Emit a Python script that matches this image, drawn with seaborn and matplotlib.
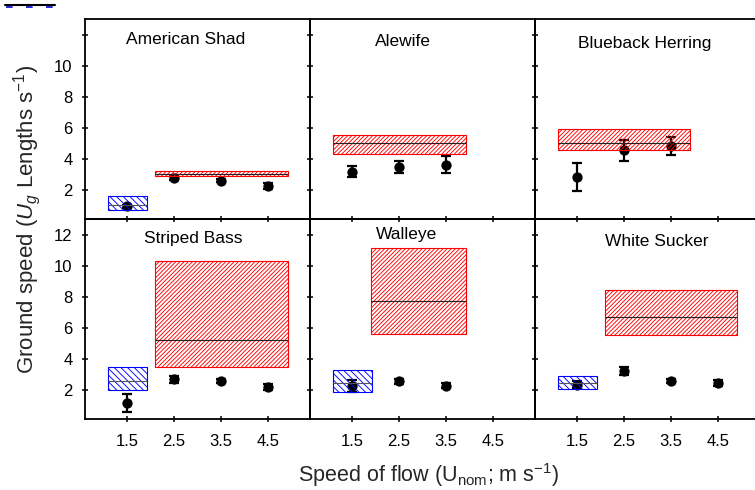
import matplotlib
matplotlib.use("Agg")
import matplotlib.pyplot as plt
from matplotlib.lines import Line2D
import numpy as np
import pandas as pd
import seaborn as sns

# ---------------- data ----------------
species = ["American Shad", "Alewife", "Blueback Herring",
           "Striped Bass", "Walleye", "White Sucker"]
flow_ticks = [1.5, 2.5, 3.5, 4.5]

shad_flow = [1.5, 2.5, 3.5, 4.5]
shad_mean = [0.92, 2.75, 2.58, 2.21]
shad_err = [0.10, 0.16, 0.12, 0.18]

alewife_flow = [1.5, 2.5, 3.5]
alewife_mean = [3.14, 3.46, 3.59]
alewife_err = [0.35, 0.40, 0.55]

blueback_flow = [1.5, 2.5, 3.5]
blueback_mean = [2.79, 4.52, 4.80]
blueback_err = [0.90, 0.66, 0.57]

bass_flow = [1.5, 2.5, 3.5, 4.5]
bass_mean = [1.14, 2.65, 2.54, 2.15]
bass_err = [0.59, 0.20, 0.15, 0.20]

walleye_flow = [1.5, 2.5, 3.5]
walleye_mean = [2.22, 2.52, 2.24]
walleye_err = [0.38, 0.15, 0.15]

sucker_flow = [1.5, 2.5, 3.5, 4.5]
sucker_mean = [2.32, 3.21, 2.54, 2.41]
sucker_err = [0.20, 0.25, 0.13, 0.20]

# red (hatched) ranges, one per species
red_x0 = [2.1, 1.1, 1.1, 2.1, 1.9, 2.1]
red_x1 = [4.92, 3.92, 3.9, 4.92, 3.92, 4.9]
red_lo = [2.85, 4.32, 4.54, 3.45, 5.57, 5.55]
red_med = [3.0, 5.01, 5.01, 5.2, 7.72, 6.67]
red_hi = [3.2, 5.5, 5.89, 10.32, 11.12, 8.39]

# blue (hatched) ranges
blue_species = ["American Shad", "Striped Bass", "Walleye", "White Sucker"]
blue_x0 = [1.1, 1.1, 1.1, 1.1]
blue_x1 = [1.92, 1.92, 1.92, 1.92]
blue_lo = [0.66, 2.0, 1.87, 2.03]
blue_med = [1.0, 2.58, 2.41, 2.41]
blue_hi = [1.57, 3.48, 3.23, 2.86]

yticks = [2, 4, 6, 8, 10, 12]

points = pd.concat([
    pd.DataFrame({"species": sp, "flow": f, "ug": m, "err": e})
    for sp, f, m, e in [
        ("American Shad", shad_flow, shad_mean, shad_err),
        ("Alewife", alewife_flow, alewife_mean, alewife_err),
        ("Blueback Herring", blueback_flow, blueback_mean, blueback_err),
        ("Striped Bass", bass_flow, bass_mean, bass_err),
        ("Walleye", walleye_flow, walleye_mean, walleye_err),
        ("White Sucker", sucker_flow, sucker_mean, sucker_err),
    ]
], ignore_index=True)

# ---------------- style ----------------
sns.set_theme(style="ticks")
plt.rcParams["font.family"] = ["Liberation Sans", "DejaVu Sans"]
plt.rcParams["mathtext.fontset"] = "custom"
plt.rcParams["mathtext.rm"] = "Liberation Sans"
plt.rcParams["mathtext.it"] = "Liberation Sans:italic"
plt.rcParams["hatch.linewidth"] = 0.65

W, H = 755, 490
fig = plt.figure(figsize=(W / 100, H / 100), dpi=100)

left_px = [85, 310, 535]
top_px = [19, 219]
pw, ph = 225, 200

title_pos = [(0.449, 0.895), (0.411, 0.887), (0.489, 0.878),
             (0.48, 0.905), (0.43, 0.925), (0.542, 0.89)]

for i, sp in enumerate(species):
    r, c = divmod(i, 3)
    ax = fig.add_axes([left_px[c] / W, 1 - (top_px[r] + ph) / H, pw / W, ph / H])

    # red range box
    ax.bar((red_x0[i] + red_x1[i]) / 2, red_hi[i] - red_lo[i], bottom=red_lo[i],
           width=red_x1[i] - red_x0[i], facecolor="none", edgecolor="#ff0000",
           hatch="////////", linewidth=0.8, zorder=4)
    ax.hlines(red_med[i], red_x0[i], red_x1[i], color="#222222", lw=0.8, zorder=4)

    if sp in blue_species:
        j = blue_species.index(sp)
        ax.bar((blue_x0[j] + blue_x1[j]) / 2, blue_hi[j] - blue_lo[j], bottom=blue_lo[j],
               width=blue_x1[j] - blue_x0[j], facecolor="none", edgecolor="#0000ff",
               hatch="\\\\\\\\\\", linewidth=0.8, zorder=4)
        ax.hlines(blue_med[j], blue_x0[j], blue_x1[j], color="#555555", lw=0.8, zorder=4)

    d = points[points["species"] == sp]
    ax.errorbar(d["flow"], d["ug"], yerr=d["err"], fmt="none", ecolor="black",
                elinewidth=1.6, capsize=3.5, capthick=1.6, zorder=2)
    sns.scatterplot(data=d, x="flow", y="ug", ax=ax, color="black", s=55,
                    edgecolor="black", linewidth=0, zorder=3, legend=False)

    ax.set_xlim(0.6, 5.4)
    ax.set_ylim(0.1, 13.0)
    ax.set_xticks(flow_ticks)
    ax.set_yticks(yticks)
    ax.set_xlabel("")
    ax.set_ylabel("")
    if r == 1:
        ax.set_xticklabels([str(v) for v in flow_ticks])
    else:
        ax.set_xticklabels([])
    if c == 0:
        if r == 0:
            ax.set_yticklabels([str(v) for v in yticks[:-1]] + [""])
        else:
            ax.set_yticklabels([str(v) for v in yticks])
    else:
        ax.set_yticklabels([])
    ax.tick_params(direction="inout", length=5, width=1.1, labelsize=12,
                   color="black", labelcolor="black")
    ax.tick_params(axis="x", pad=8)
    ax.tick_params(axis="y", pad=6.5)
    for s in ax.spines.values():
        s.set_visible(True)
        s.set_linewidth(1.3)
        s.set_color("black")
    ax.set_facecolor("none")
    ax.text(title_pos[i][0], title_pos[i][1], sp, transform=ax.transAxes,
            ha="center", va="center", fontsize=12.5, color="black")

fig.text(0.036, 1 - 219.5 / H, r"Ground speed ($\mathit{U_g}$ Lengths s$^{-1}$)",
         rotation=90, ha="center", va="center", fontsize=16)
fig.text(429 / W, 1 - 475 / H, r"Speed of flow (U$_{\mathrm{nom}}$; m s$^{-1}$)",
         ha="center", va="center", fontsize=15.5)

# small cropped legend fragment at top-left
fig.add_artist(Line2D([5 / W, 55 / W], [1 - 5.5 / H, 1 - 5.5 / H],
                      transform=fig.transFigure, color="black", lw=1.5))
fig.add_artist(Line2D([6 / W, 54 / W], [1 - 7.5 / H, 1 - 7.5 / H],
                      transform=fig.transFigure, color="#0000cc", lw=1.2,
                      dashes=(4, 8)))

fig.savefig("out.png", dpi=100)
